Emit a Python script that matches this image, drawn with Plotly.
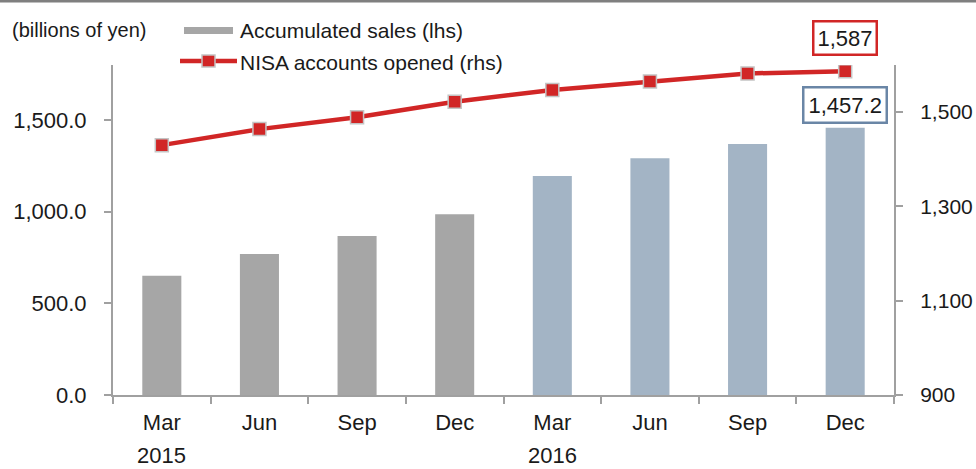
import plotly.graph_objects as go

categories = ["Mar 2015", "Jun 2015", "Sep 2015", "Dec 2015",
              "Mar 2016", "Jun 2016", "Sep 2016", "Dec 2016"]
month_labels = ["Mar", "Jun", "Sep", "Dec", "Mar", "Jun", "Sep", "Dec"]
year_labels = {"Mar 2015": "2015", "Mar 2016": "2016"}
accumulated_sales = [651, 769, 867, 986, 1195, 1292, 1369, 1457.2]
nisa_accounts = [1430, 1464, 1489, 1522, 1547, 1565, 1582, 1587]
bar_colors = ["#A6A6A6"] * 4 + ["#A3B4C5"] * 4

W, H = 976, 469
L, R, T, B = 113, 894, 65, 395
FONT = "Liberation Sans, Arial, sans-serif"
RED = "#D12626"


def X(px):
    return (px - L) / (R - L)


def Y(py):
    return (B - py) / (B - T)


fig = go.Figure()
fig.add_trace(go.Bar(
    x=categories, y=accumulated_sales, name="Accumulated sales (lhs)",
    marker=dict(color=bar_colors, line=dict(width=0)), width=0.4,
    showlegend=False, yaxis="y",
))
fig.add_trace(go.Scatter(
    x=categories, y=nisa_accounts, name="NISA accounts opened (rhs)",
    mode="lines+markers", yaxis="y2",
    line=dict(color=RED, width=4.5),
    marker=dict(symbol="square", size=13, color=RED,
                line=dict(color="#C4C4C4", width=1.5)),
    showlegend=False,
))

axis_color = "#A0A0A0"
TICK_SIZE = 22
fig.update_layout(
    width=W, height=H,
    margin=dict(l=L, r=W - R, t=T, b=H - B, pad=0, autoexpand=False),
    paper_bgcolor="white", plot_bgcolor="white",
    font=dict(family=FONT, size=21, color="#1a1a1a"),
    xaxis=dict(
        type="category", range=[-0.5, 7.5],
        tickvals=categories, ticktext=month_labels,
        tickson="boundaries", ticks="outside", ticklen=7, tickwidth=1.5,
        tickcolor=axis_color, showline=True, linecolor=axis_color, linewidth=2,
        showgrid=False, zeroline=False, tickfont=dict(size=TICK_SIZE),
        ticklabelstandoff=7,
    ),
    yaxis=dict(
        range=[0, 1800], tickvals=[0, 500, 1000, 1500], tickformat=",.1f",
        ticks="outside", ticklen=7, tickwidth=1.5, tickcolor=axis_color,
        showline=True, linecolor=axis_color, linewidth=2,
        showgrid=False, zeroline=False, tickfont=dict(size=TICK_SIZE),
        ticklabelstandoff=13,
    ),
    yaxis2=dict(
        range=[900, 1600], tickvals=[900, 1100, 1300, 1500], tickformat=",",
        overlaying="y", side="right",
        ticks="outside", ticklen=7, tickwidth=1.5, tickcolor=axis_color,
        showline=True, linecolor=axis_color, linewidth=2,
        showgrid=False, zeroline=False, tickfont=dict(size=21),
        ticklabelstandoff=13,
    ),
)

shapes = [
    # top border line
    dict(type="line", xref="paper", yref="paper", x0=X(0), x1=X(W), y0=Y(1), y1=Y(1),
         line=dict(color="#7F7F7F", width=3)),
    # legend: bar patch
    dict(type="rect", xref="paper", yref="paper", x0=X(184), x1=X(233), y0=Y(34), y1=Y(27),
         fillcolor="#A6A6A6", line=dict(width=0)),
    # legend: line
    dict(type="line", xref="paper", yref="paper", x0=X(180), x1=X(237), y0=Y(61), y1=Y(61),
         line=dict(color=RED, width=4.5)),
    dict(type="rect", xref="paper", yref="paper", x0=X(202), x1=X(215), y0=Y(67), y1=Y(55),
         fillcolor=RED, line=dict(color="#C4C4C4", width=1.5)),
]
fig.update_layout(shapes=shapes)

annotations = [
    dict(text="(billions of yen)", xref="paper", yref="paper", x=X(10), y=Y(30),
         xanchor="left", yanchor="middle", showarrow=False, font=dict(size=20)),
    dict(text="Accumulated sales (lhs)", xref="paper", yref="paper", x=X(238), y=Y(30),
         xanchor="left", yanchor="middle", showarrow=False, font=dict(size=21)),
    dict(text="NISA accounts opened (rhs)", xref="paper", yref="paper", x=X(238), y=Y(62),
         xanchor="left", yanchor="middle", showarrow=False, font=dict(size=21)),
    dict(text=f"{nisa_accounts[-1]:,}", x=categories[-1], y=nisa_accounts[-1],
         xref="x", yref="y2", yshift=33, showarrow=False,
         bordercolor=RED, borderwidth=2.5, borderpad=3, bgcolor="white",
         font=dict(size=22)),
    dict(text=f"{accumulated_sales[-1]:,.1f}", x=categories[-1], y=accumulated_sales[-1],
         xref="x", yref="y", yshift=23, showarrow=False,
         bordercolor="#6A86A6", borderwidth=2.5, borderpad=4, bgcolor="white",
         font=dict(size=22)),
]
for cat, yr in year_labels.items():
    annotations.append(dict(text=yr, x=cat, xref="x", yref="paper", y=Y(469),
                            xanchor="center", yanchor="bottom", showarrow=False,
                            borderpad=0, font=dict(size=TICK_SIZE)))
fig.update_layout(annotations=annotations)

fig.write_html("out.html", config={"displayModeBar": False},
               post_script="document.body.style.margin='0px';")
